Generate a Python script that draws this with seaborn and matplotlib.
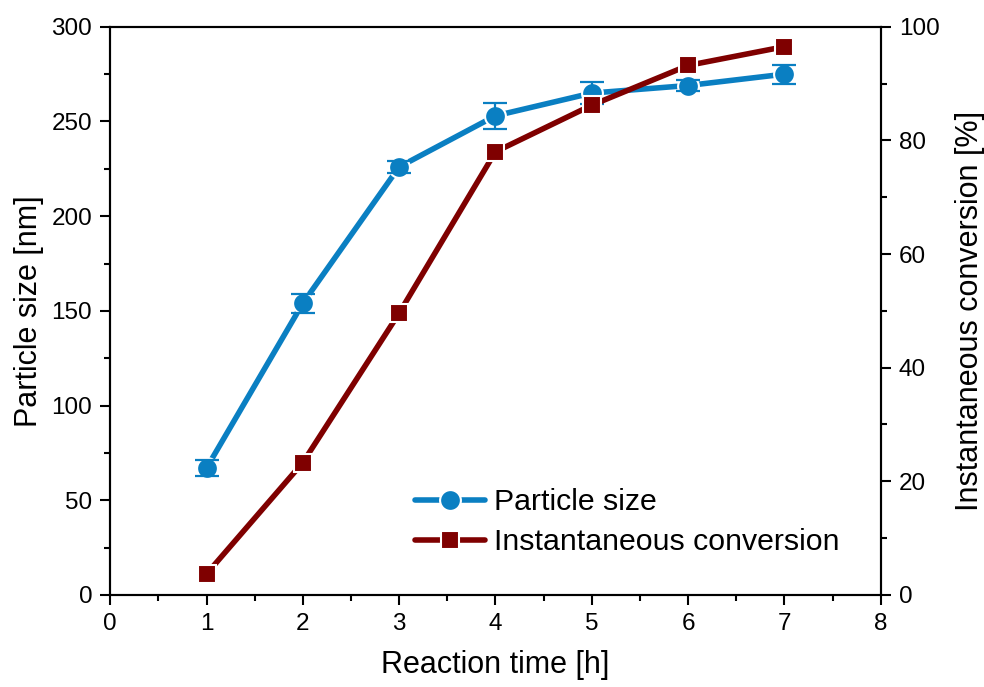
import numpy as np
import pandas as pd
import matplotlib
matplotlib.use("Agg")
import matplotlib.pyplot as plt
import seaborn as sns
from matplotlib.ticker import MultipleLocator

# data
time_h = [1, 2, 3, 4, 5, 6, 7]
particle_size = [67, 154, 226, 253, 265, 269, 275]
size_err = [4, 5, 3, 7, 6, 3, 5]
conversion = [3.7, 23.3, 49.6, 78.0, 86.2, 93.2, 96.5]

blue = "#0a7fc2"
red = "#7f0000"

sns.set_style("ticks")
plt.rcParams["font.family"] = ["Liberation Sans", "DejaVu Sans"]
plt.rcParams["text.color"] = "black"
plt.rcParams["axes.labelcolor"] = "black"
plt.rcParams["xtick.color"] = "black"
plt.rcParams["ytick.color"] = "black"

df = pd.DataFrame({"t": time_h, "size": particle_size, "conv": conversion})

fig = plt.figure(figsize=(9.84, 6.87), dpi=100)
ax = fig.add_axes([0.112, 0.134, 0.783, 0.827])
ax2 = ax.twinx()

sns.lineplot(data=df, x="t", y="size", ax=ax, color=blue, lw=4.0, marker="o",
             markersize=15, markeredgecolor="white", markeredgewidth=1.5,
             label="Particle size", legend=False, zorder=3)
# error bars drawn over the markers, as in the original
ax.errorbar(time_h, particle_size, yerr=size_err, fmt="none", ecolor=blue,
            elinewidth=1.6, capsize=8.3, capthick=1.6, zorder=4)
sns.lineplot(data=df, x="t", y="conv", ax=ax2, color=red, lw=4.0, marker="s",
             markersize=13, markeredgecolor="white", markeredgewidth=1.5,
             label="Instantaneous conversion", legend=False, zorder=3)

ax.set_xlim(0, 8)
ax.set_ylim(0, 300)
ax2.set_ylim(0, 100)
ax.xaxis.set_major_locator(MultipleLocator(1))
ax.xaxis.set_minor_locator(MultipleLocator(0.5))
ax.yaxis.set_major_locator(MultipleLocator(50))
ax.yaxis.set_minor_locator(MultipleLocator(25))
ax2.yaxis.set_major_locator(MultipleLocator(20))
ax2.yaxis.set_minor_locator(MultipleLocator(10))

for a in (ax, ax2):
    a.tick_params(which="major", length=7, width=1.5, labelsize=17.5, direction="out", pad=6)
    a.tick_params(which="minor", length=4, width=1.5, direction="out")
    for s in a.spines.values():
        s.set_linewidth(1.5)
        s.set_color("black")

ax.set_xlabel("Reaction time [h]", fontsize=22, labelpad=11)
ax.set_ylabel("Particle size [nm]", fontsize=22, labelpad=5)
ax2.set_ylabel("Instantaneous conversion [%]", fontsize=22, labelpad=11)

h1, l1 = ax.get_legend_handles_labels()
h2, l2 = ax2.get_legend_handles_labels()
ax2.legend(h1 + h2, l1 + l2, loc="lower left", bbox_to_anchor=(0.396, 0.068),
           frameon=False, fontsize=21.8, handlelength=2.3, handletextpad=0.3,
           labelspacing=0.4, borderpad=0, borderaxespad=0)

fig.savefig("out.png", dpi=100)
